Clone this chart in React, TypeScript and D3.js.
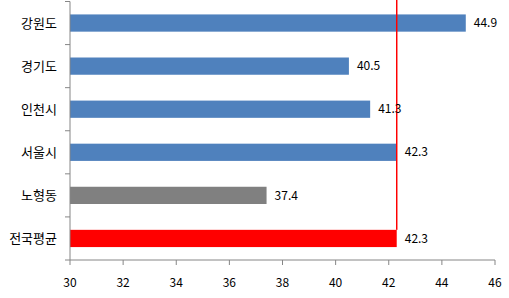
import React from "react";
import * as d3 from "d3";

const categories = ["강원도", "경기도", "인천시", "서울시", "노형동", "전국평균"];
const values = [44.9, 40.5, 41.3, 42.3, 37.4, 42.3];
const barColors = ["#4F81BD", "#4F81BD", "#4F81BD", "#4F81BD", "#808080", "#FF0000"];
const xTicks = [30, 32, 34, 36, 38, 40, 42, 44, 46];
const refValue = 42.3;

export default function App() {
  const W = 509, H = 298;
  const left = 70, right = 495, top = 1.5, bottom = 260;
  const x = d3.scaleLinear().domain([30, 46]).range([left, right]);
  const y = d3.scaleBand<string>().domain(categories).range([top, bottom]).paddingInner(0.6).paddingOuter(0.3);
  const bandAll = d3.scaleBand<string>().domain(categories).range([top, bottom]).padding(0);
  const axisColor = "#868686";
  const font = "'Noto Sans CJK KR', 'DejaVu Sans', sans-serif";
  const lastCat = categories[categories.length - 1];
  return (
    <svg width={W} height={H} style={{ position: "absolute", left: 0, top: 0 }}>
      <rect width={W} height={H} fill="#fff" />
      {categories.map((c, i) => (
        <rect key={c} x={x(30)} y={y(c)!} width={x(values[i]) - x(30)} height={y.bandwidth()} fill={barColors[i]} />
      ))}
      <line x1={x(refValue)} x2={x(refValue)} y1={0} y2={y(lastCat)!} stroke="#FF0000" strokeWidth={1.5} />
      {/* y axis */}
      <line x1={left} x2={left} y1={top} y2={bottom} stroke={axisColor} />
      {categories.map((c) => (
        <line key={"t" + c} x1={left - 5} x2={left} y1={bandAll(c)!} y2={bandAll(c)!} stroke={axisColor} />
      ))}
      <line x1={left - 5} x2={left} y1={bottom} y2={bottom} stroke={axisColor} />
      {/* x axis */}
      <line x1={left} x2={right} y1={bottom} y2={bottom} stroke={axisColor} />
      {xTicks.map((t) => (
        <g key={"x" + t}>
          <line x1={x(t)} x2={x(t)} y1={bottom} y2={bottom + 5} stroke={axisColor} />
          <text x={x(t)} y={bottom + 27} textAnchor="middle" fontSize={12} fontFamily={font} fill="#000">{t}</text>
        </g>
      ))}
      {categories.map((c) => (
        <text key={"l" + c} x={57} y={y(c)! + y.bandwidth() / 2} dy="0.35em" textAnchor="end" fontSize={13} fontFamily={font} fill="#000">{c}</text>
      ))}
      {categories.map((c, i) => (
        <text key={"v" + c} x={x(values[i]) + 8} y={y(c)! + y.bandwidth() / 2} dy="0.35em" textAnchor="start" fontSize={12} fontFamily={font} fill="#000">{values[i].toFixed(1)}</text>
      ))}
    </svg>
  );
}
